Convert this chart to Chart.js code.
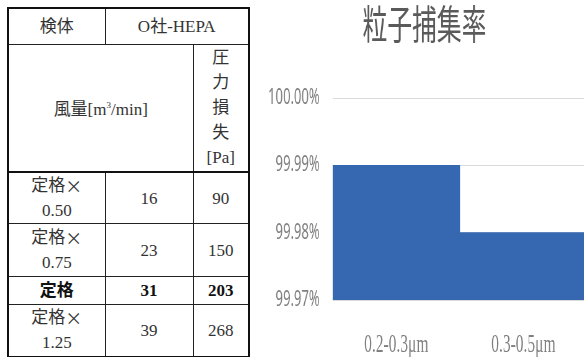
<!DOCTYPE html>
<html>
<head>
<meta charset="utf-8">
<script src="https://cdn.jsdelivr.net/npm/chart.js@4/dist/chart.umd.min.js"></script>
<style>
html,body{margin:0;padding:0;background:#fff;}
body{width:584px;height:357px;overflow:hidden;position:relative;}
#spec{position:absolute;left:7px;top:7px;border-collapse:collapse;
  font-family:"Liberation Serif","Noto Sans CJK JP",serif;font-size:17px;color:#333;}
#spec td{text-align:center;vertical-align:middle;padding:0;border:1.5px solid #222;line-height:25px;}
#spec tr.dot td{border-top:1px dashed #888;}
#spec tr.first td{border-top:2px solid #111;}
#spec .bold{font-weight:bold;color:#111;}
#spec .cjk{font-family:"Noto Sans CJK JP";display:inline-block;height:25px;line-height:25px;vertical-align:top;}
#wrap{position:absolute;left:262px;top:0;width:325px;height:357px;}
#chart{transform:scaleX(0.62);transform-origin:0 0;}
</style>
</head>
<body>
<table id="spec"></table>
<div id="wrap"><canvas id="chart" width="524" height="357"></canvas></div>
<script>
/* test conditions */
const sample = "O社-HEPA";
const levels = ["定格×\n0.50", "定格×\n0.75", "定格", "定格×\n1.25"];
const airflow = [16, 23, 31, 39];
const pressure = [90, 150, 203, 268];

/* capture efficiency */
const sizes = ["0.2-0.3μm", "0.3-0.5μm"];
const efficiency = [99.99, 99.98];
const yTicks = [99.97, 99.98, 99.99, 100.00];

/* table */
const table = document.getElementById("spec");
const colW = [97, 88, 56];
const rowH = [51, 53, 28, 52];

let html = "<colgroup>" + colW.map(w=>"<col style='width:"+w+"px'>").join("") + "</colgroup>";
html += "<tr style='height:36px'><td>検体</td><td colspan='2'>"+sample+"</td></tr>";
html += "<tr style='height:128px'><td colspan='2'>風量[m<sup style='font-size:9px'>3</sup>/min]</td>"
  + "<td>圧<br>力<br>損<br>失<br>[Pa]</td></tr>";
levels.forEach((lv, i)=>{
  let cls = i==0 ? "first" : "dot";
  let b = lv=="定格" ? " class='bold'" : "";
  let txt = lv.replace("×","<span class='cjk'>×</span>").replace("\n","<br>");
  html += "<tr class='"+cls+"' style='height:"+rowH[i]+"px'>"
    + "<td"+b+">"+txt+"</td>"
    + "<td"+b+">"+airflow[i]+"</td>"
    + "<td"+b+">"+pressure[i]+"</td></tr>";
});
table.innerHTML = html;
table.style.border = "2px solid #111";

/* chart */
const ctx = document.getElementById("chart").getContext("2d");

new Chart(ctx,{
type:"bar",
data:{
labels:sizes,
datasets:[{
data:efficiency,
backgroundColor:"#3668b2",
barPercentage:1,
categoryPercentage:1
}]
},
options:{
responsive:false,
animation:false,
layout:{padding:0},
plugins:{
legend:{display:false},
tooltip:{enabled:false},
title:{
display:true,
text:"粒子捕集率",
color:"#5a5a5a",
font:{family:"Noto Sans CJK JP",size:40,weight:"normal",lineHeight:1.2},
padding:{top:0,bottom:50}
}
},
scales:{
x:{
grid:{display:false},
border:{display:false},
ticks:{color:"#7f7f7f",padding:22,font:{family:"Liberation Serif",size:25}},
afterFit:(s)=>{s.height=57;}
},
y:{
min:yTicks[0],
max:yTicks[yTicks.length-1],
afterBuildTicks:(s)=>{s.ticks=yTicks.map(v=>({value:v}));},
grid:{color:"#d9d9d9",lineWidth:1,drawTicks:false},
border:{display:false},
ticks:{
color:"#808080",
padding:21,
font:{family:"Noto Sans",size:21},
callback:(v)=>v.toFixed(2)+"%"
},
afterFit:(s)=>{s.width=114;}
}
}
}
});
</script>
</body>
</html>
